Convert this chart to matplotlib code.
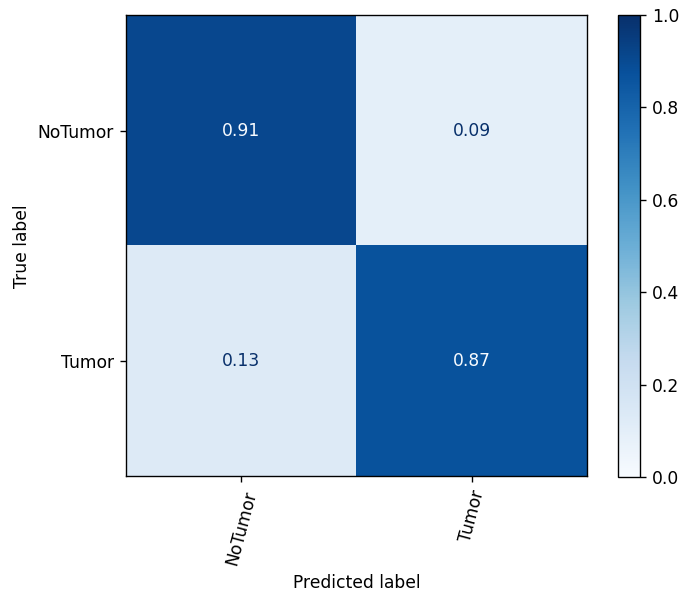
import matplotlib
matplotlib.use("Agg")
import matplotlib.pyplot as plt
import numpy as np

classes = ["NoTumor", "Tumor"]
values = [[0.91, 0.09],
          [0.13, 0.87]]

DPI = 123
cm = np.array(values)
fig = plt.figure(figsize=(686 / DPI, 597 / DPI), dpi=DPI)
ax = fig.add_axes([0.1837, 0.201, 0.672, 0.774])
cax = fig.add_axes([0.901, 0.201, 0.032, 0.774])
cmap = plt.get_cmap("Blues")
im = ax.imshow(cm, cmap=cmap, vmin=0, vmax=1, interpolation="nearest")
for i in range(cm.shape[0]):
    for j in range(cm.shape[1]):
        color = cmap(0.0) if cm[i, j] > 0.5 else cmap(1.0)
        ax.text(j, i, f"{cm[i, j]:.2f}", ha="center", va="center", color=color, fontsize=10)
ax.set_xticks(range(len(classes)))
ax.set_xticklabels(classes, rotation=75, fontsize=10)
ax.set_yticks(range(len(classes)))
ax.set_yticklabels(classes, fontsize=10)
ax.set_xlabel("Predicted label", fontsize=10)
ax.set_ylabel("True label", fontsize=10)
cb = fig.colorbar(im, cax=cax)
cb.ax.tick_params(labelsize=10)
fig.savefig("out.png", dpi=DPI)
